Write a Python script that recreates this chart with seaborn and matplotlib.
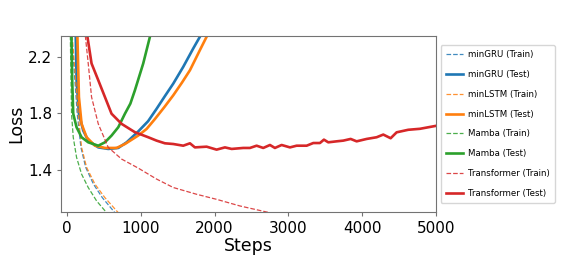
import matplotlib
matplotlib.use("Agg")
import matplotlib.pyplot as plt
import seaborn as sns
import numpy as np

# ---- data ----
gru_test_x = [118, 131, 163, 221, 289, 425, 560, 696, 809, 966, 1100, 1215, 1330, 1441, 1576, 1712, 1802, 1830]
gru_test_y = [2.40, 2.036, 1.798, 1.679, 1.607, 1.559, 1.548, 1.555, 1.595, 1.672, 1.745, 1.833, 1.925, 2.012, 2.131, 2.262, 2.345, 2.37]

lstm_test_x = [140, 163, 199, 267, 380, 515, 673, 786, 966, 1080, 1192, 1320, 1441, 1560, 1667, 1802, 1893, 1920]
lstm_test_y = [2.40, 1.917, 1.726, 1.631, 1.571, 1.555, 1.555, 1.583, 1.643, 1.69, 1.76, 1.845, 1.929, 2.02, 2.107, 2.25, 2.345, 2.37]

mamba_test_x = [60, 72, 86, 131, 199, 289, 425, 515, 605, 696, 786, 860, 921, 1034, 1125, 1140]
mamba_test_y = [2.40, 2.036, 1.798, 1.702, 1.631, 1.595, 1.571, 1.595, 1.643, 1.702, 1.798, 1.87, 1.964, 2.155, 2.345, 2.37]

trans_test_x = [262, 334, 425, 515, 605, 741, 921, 1102, 1215, 1328, 1441, 1576, 1667, 1734, 1893,
                2028, 2141, 2232, 2389, 2480, 2570, 2660, 2751, 2818, 2909, 3022, 3112, 3248, 3338,
                3428, 3482, 3541, 3654, 3744, 3844, 3925, 4061, 4196, 4286, 4386, 4467, 4624, 4783, 5000]
trans_test_y = [2.40, 2.155, 2.036, 1.917, 1.798, 1.726, 1.667, 1.631, 1.607, 1.588, 1.583, 1.571, 1.588, 1.559, 1.564,
                1.543, 1.559, 1.548, 1.555, 1.555, 1.571, 1.555, 1.576, 1.555, 1.576, 1.559, 1.571, 1.571, 1.59,
                1.59, 1.614, 1.595, 1.602, 1.607, 1.619, 1.602, 1.619, 1.631, 1.65, 1.624, 1.666, 1.684, 1.691, 1.712]

gru_train_x = [60, 140, 190, 255, 360, 480, 650, 680]
gru_train_y = [2.40, 1.798, 1.559, 1.417, 1.298, 1.202, 1.095, 1.08]

lstm_train_x = [65, 153, 199, 267, 380, 515, 696, 720]
lstm_train_y = [2.40, 1.798, 1.559, 1.417, 1.298, 1.202, 1.095, 1.08]

mamba_train_x = [45, 63, 86, 131, 199, 289, 402, 538, 560]
mamba_train_y = [2.40, 1.798, 1.631, 1.488, 1.369, 1.274, 1.179, 1.095, 1.08]

trans_train_x = [240, 289, 334, 425, 560, 741, 966, 1215, 1441, 1757, 2028, 2344, 2706, 2800]
trans_train_y = [2.40, 2.155, 1.917, 1.726, 1.559, 1.476, 1.412, 1.334, 1.274, 1.226, 1.19, 1.143, 1.10, 1.09]

models = ["minGRU", "minLSTM", "Mamba", "Transformer"]
train_data = [(gru_train_x, gru_train_y), (lstm_train_x, lstm_train_y),
              (mamba_train_x, mamba_train_y), (trans_train_x, trans_train_y)]
test_data = [(gru_test_x, gru_test_y), (lstm_test_x, lstm_test_y),
             (mamba_test_x, mamba_test_y), (trans_test_x, trans_test_y)]
colors = sns.color_palette("tab10", 4)

fig = plt.figure(figsize=(5.77, 2.61), dpi=100)
ax = fig.add_axes([0.1057, 0.1877, 0.6499, 0.6743])

for m, c, (trx, tr_y), (tex, te_y) in zip(models, colors, train_data, test_data):
    sns.lineplot(x=trx, y=tr_y, ax=ax, color=c, linewidth=0.9, linestyle="--",
                 alpha=0.85, label=f"{m} (Train)", sort=False)
    sns.lineplot(x=tex, y=te_y, ax=ax, color=c, linewidth=1.9,
                 label=f"{m} (Test)", sort=False)

ax.set_xlim(-80, 5000)
ax.set_ylim(1.1, 2.35)
ax.set_xticks([0, 1000, 2000, 3000, 4000, 5000])
ax.set_yticks([1.4, 1.8, 2.2])
ax.set_xlabel("Steps", fontsize=12.5, labelpad=1)
ax.set_ylabel("Loss", fontsize=12.5, labelpad=2)
ax.tick_params(labelsize=11, color="0.45", length=3)
for s in ax.spines.values():
    s.set_color("0.45")

ax.legend(loc="center left", bbox_to_anchor=(1.003, 0.5), fontsize=6.2,
          labelspacing=1.25, handlelength=2.0, handletextpad=0.6,
          frameon=True, borderpad=0.6, borderaxespad=0.4)

fig.savefig("out.png", dpi=100)
